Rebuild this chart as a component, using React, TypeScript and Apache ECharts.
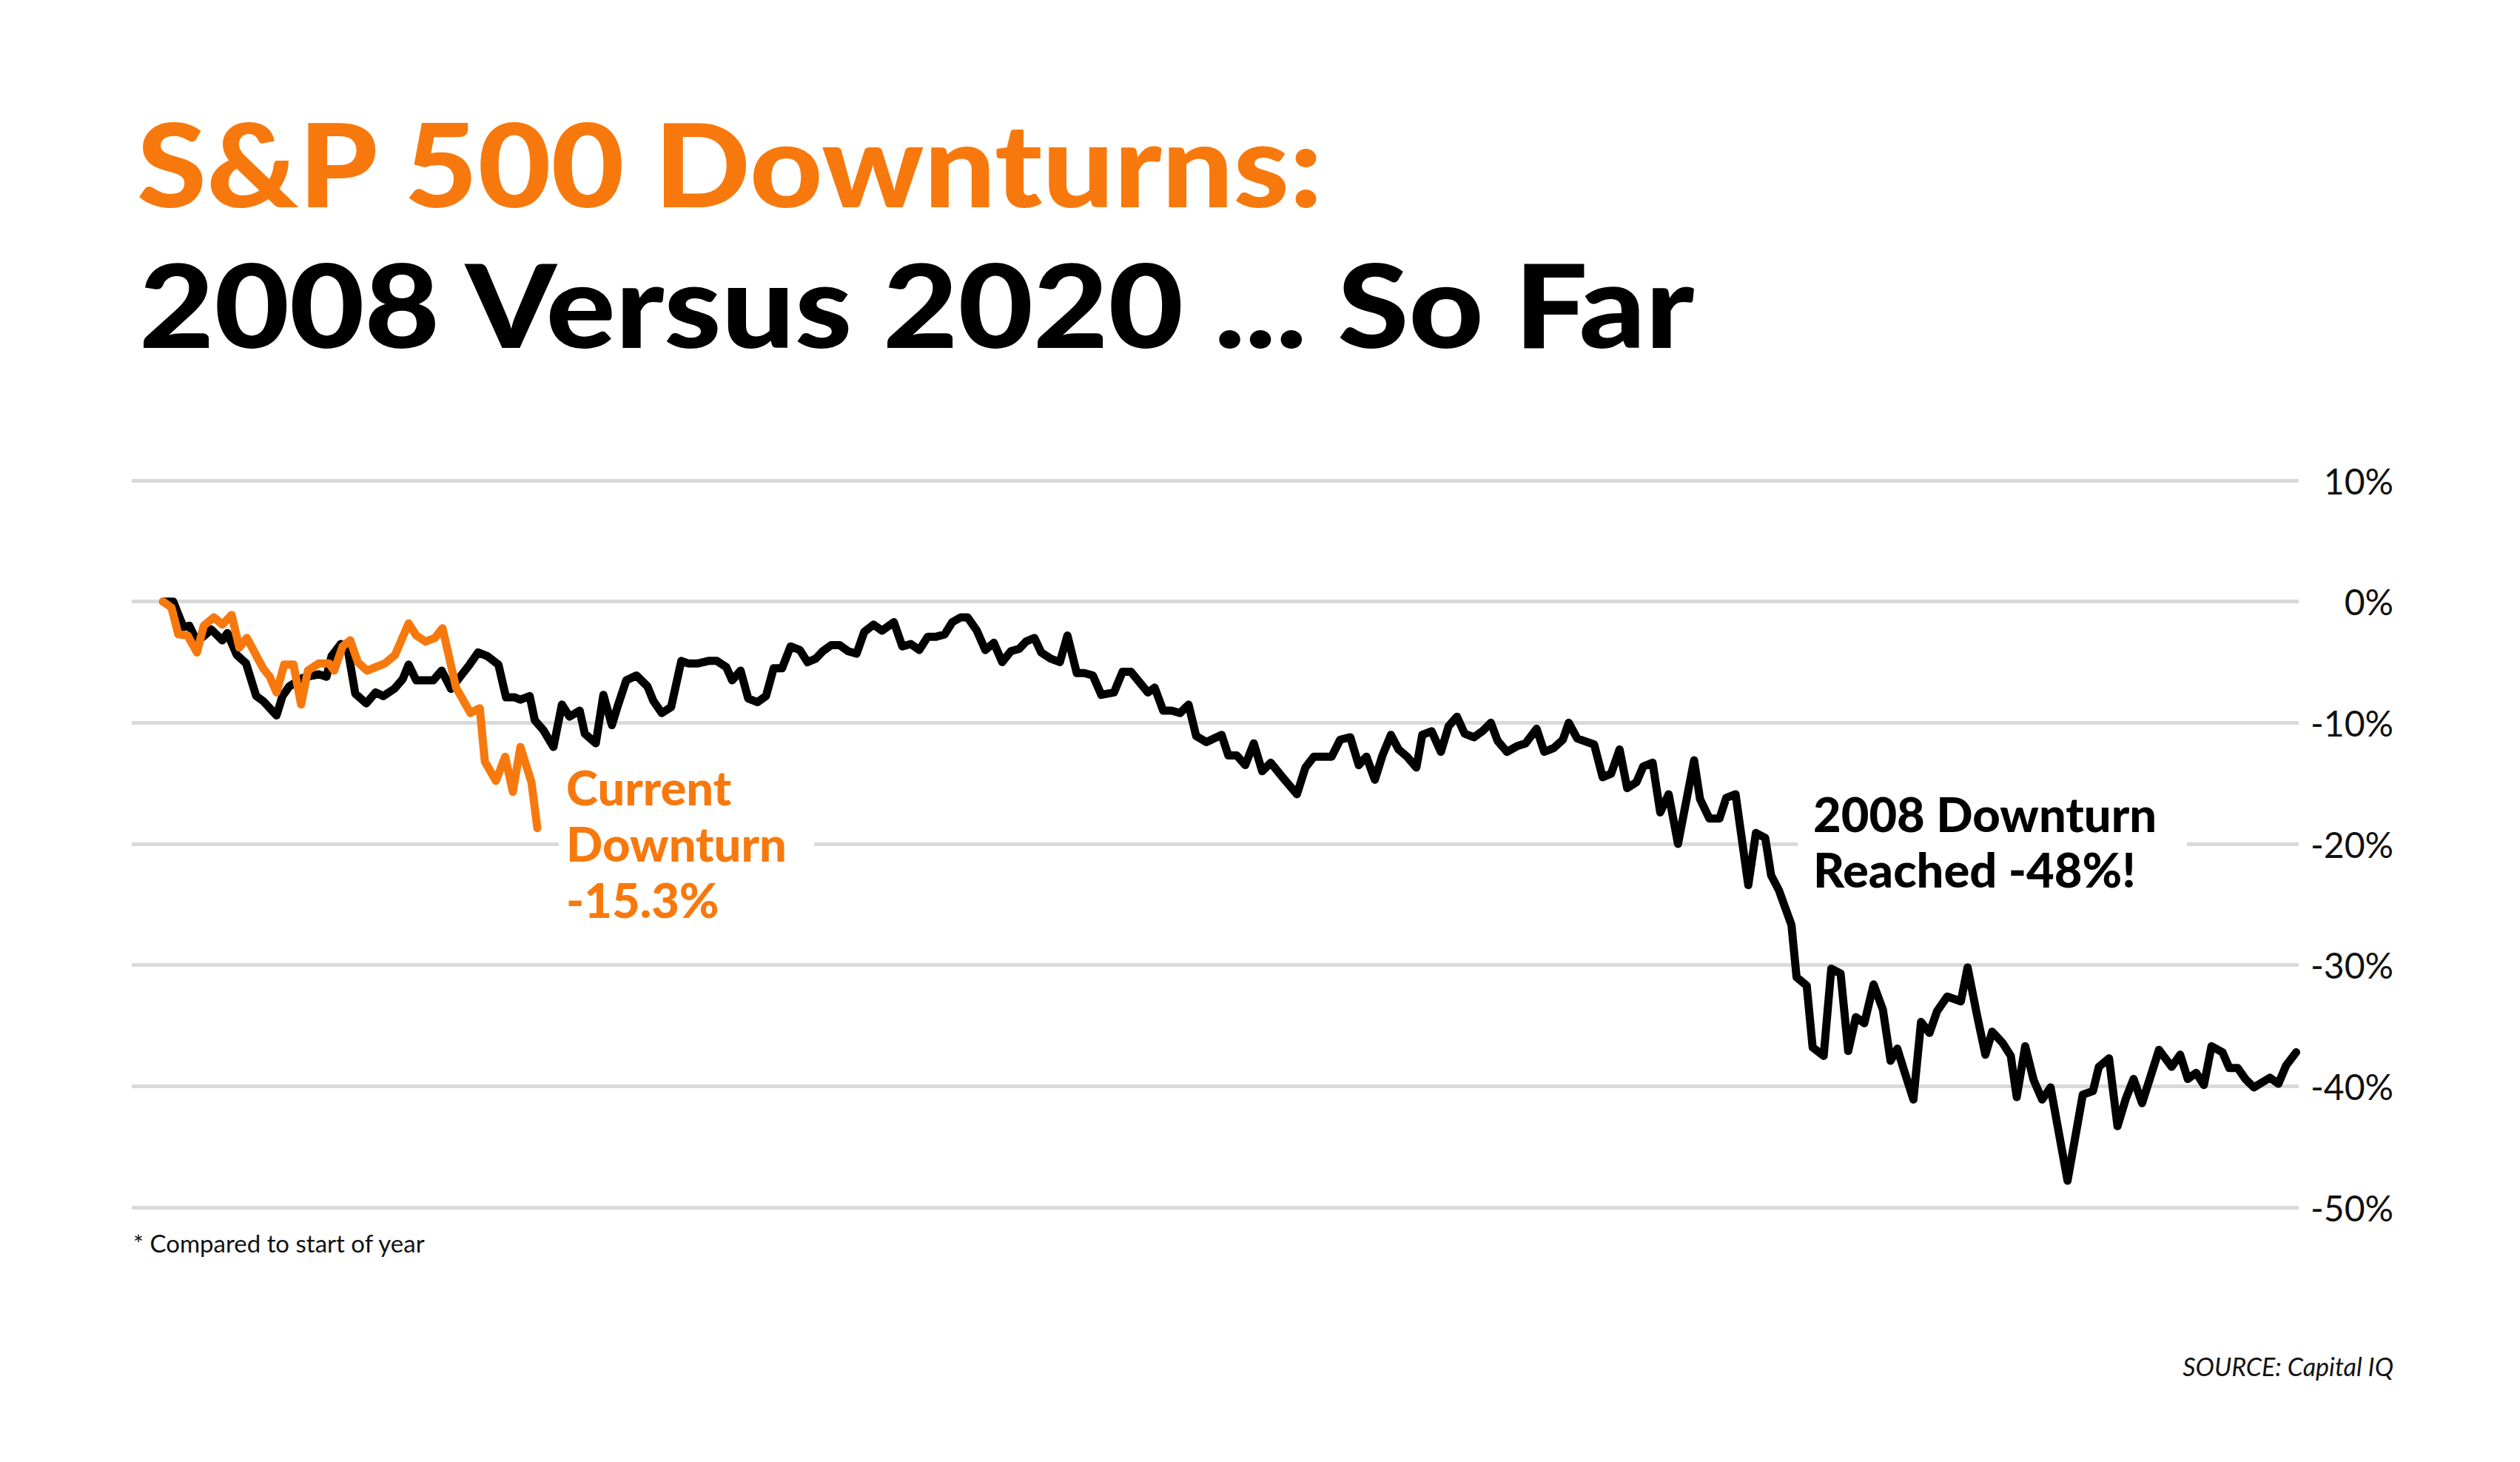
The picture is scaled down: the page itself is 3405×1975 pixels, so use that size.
import React, { useEffect, useRef } from "react";
import * as echarts from "echarts";

// Trading-day position (from first trading day of the year) and % change vs start of year
const days2008 = [
  0, 1.2, 2.4, 3.1, 4.0, 4.9, 5.7, 7.0, 7.6, 8.7, 9.8, 11.0, 11.8, 13.4, 14.1, 14.9, 16.5, 17.7, 18.4, 19.3,
  19.9, 21.0, 21.8, 22.7, 24.0, 25.1, 26.0, 27.3, 28.3, 29.0, 29.9, 31.9, 32.9, 34.0, 35.2, 36.2, 37.2, 38.3, 39.6, 40.5,
  41.5, 42.2, 43.3, 43.9, 44.9, 46.1, 47.1, 48.0, 49.2, 49.8, 51.1, 52.0, 53.0, 53.7, 54.7, 55.9, 57.2, 57.9, 58.9, 60.0,
  61.2, 62.0, 63.2, 64.4, 65.4, 66.5, 67.2, 68.2, 69.1, 70.2, 71.2, 72.1, 73.1, 74.1, 75.2, 76.1, 77.1, 77.9, 78.9, 79.9,
  80.9, 81.9, 82.8, 83.9, 84.9, 86.3, 87.3, 88.3, 89.3, 90.3, 91.3, 92.3, 93.2, 94.2, 95.0, 96.1, 97.1, 98.1, 99.1, 100.1,
  101.1, 101.9, 102.9, 103.7, 104.8, 105.9, 106.8, 107.9, 108.8, 109.8, 110.8, 112.3, 113.3, 114.3, 116.3, 117.1, 118.1, 119.1, 120.1, 121.1,
  122.0, 123.2, 125.0, 125.8, 126.8, 127.8, 128.8, 129.8, 130.8, 132.2, 133.9, 134.9, 135.9, 138.0, 139.0, 140.2, 141.2, 142.1, 143.1, 144.0,
  145.0, 145.9, 146.9, 148.0, 148.7, 149.8, 150.9, 151.8, 152.8, 153.7, 154.8, 155.8, 156.8, 157.6, 158.7, 160.0, 160.9, 162.2, 163.1, 164.2,
  165.3, 166.0, 167.0, 169.0, 170.0, 171.0, 172.0, 172.9, 174.0, 174.8, 175.9, 176.8, 177.8, 178.9, 180.8, 181.5, 182.6, 183.8, 184.6, 185.7,
  187.2, 188.1, 189.2, 189.9, 190.8, 192.3, 192.9, 194.1, 194.8, 196.1, 197.0, 198.1, 199.0, 199.9, 200.9, 202.0, 203.1, 204.0, 204.8, 205.6,
  206.7, 207.6, 208.6, 209.5, 210.7, 212.3, 213.1, 214.2, 215.2, 216.0, 217.2, 218.2, 218.9, 219.9, 220.9, 221.9, 222.9, 224.9, 226.7, 227.9,
  228.6, 229.8, 230.8, 231.8, 232.7, 233.7, 235.7, 237.2, 238.2, 239.1, 240.1, 241.0, 241.9, 243.2, 244.0, 245.0, 245.9, 246.9, 248.8, 249.8,
  250.7, 251.9,
];
const pct2008 = [
  0.0, 0.0, -2.1, -2.0, -3.3, -2.8, -2.3, -3.2, -2.6, -4.4, -5.1, -7.8, -8.2, -9.4, -7.8, -7.0, -6.3, -6.1, -6.0, -6.2,
  -4.5, -3.5, -3.9, -7.6, -8.4, -7.5, -7.8, -7.2, -6.4, -5.2, -6.5, -6.5, -5.7, -7.2, -6.1, -5.2, -4.2, -4.5, -5.2, -7.9,
  -7.9, -8.1, -7.8, -9.8, -10.6, -12.0, -8.5, -9.5, -9.0, -10.9, -11.7, -7.7, -10.2, -8.6, -6.5, -6.1, -7.0, -8.2, -9.2, -8.7,
  -4.9, -5.1, -5.1, -4.9, -4.9, -5.4, -6.5, -5.7, -8.0, -8.3, -7.8, -5.5, -5.5, -3.7, -4.0, -5.0, -4.7, -4.1, -3.6, -3.6,
  -4.1, -4.3, -2.5, -1.9, -2.4, -1.7, -3.7, -3.5, -4.0, -2.9, -2.9, -2.7, -1.7, -1.3, -1.3, -2.4, -4.0, -3.4, -5.0, -4.1,
  -3.9, -3.3, -3.0, -4.2, -4.7, -5.0, -2.8, -5.9, -5.9, -6.1, -7.7, -7.5, -5.8, -5.8, -7.5, -7.1, -9.0, -9.0, -9.2, -8.5,
  -11.1, -11.6, -11.0, -12.7, -12.7, -13.5, -11.7, -14.0, -13.3, -14.5, -15.9, -13.7, -12.8, -12.8, -11.4, -11.2, -13.5, -12.8, -14.7, -12.7,
  -11.0, -12.2, -12.8, -13.7, -11.0, -10.7, -12.4, -10.3, -9.5, -10.9, -11.2, -10.7, -10.0, -11.5, -12.4, -11.9, -11.7, -10.5, -12.4, -12.1,
  -11.4, -10.0, -11.3, -11.8, -14.5, -14.2, -12.2, -15.4, -14.9, -13.6, -13.3, -17.4, -15.9, -20.0, -13.1, -16.3, -17.9, -17.9, -16.2, -15.9,
  -23.4, -19.1, -19.5, -22.6, -23.8, -26.7, -31.0, -31.7, -36.8, -37.5, -30.3, -30.7, -37.1, -34.3, -34.8, -31.6, -33.7, -37.9, -36.9, -38.7,
  -41.1, -34.7, -35.6, -33.8, -32.6, -33.0, -30.2, -34.1, -37.4, -35.5, -36.4, -37.5, -40.9, -36.7, -39.5, -41.1, -40.1, -47.8, -40.7, -40.4,
  -38.4, -37.7, -43.3, -41.0, -39.4, -41.4, -37.0, -38.4, -37.4, -39.4, -38.9, -39.9, -36.7, -37.2, -38.5, -38.5, -39.4, -40.1, -39.3, -39.8,
  -38.3, -37.2,
];

const days2020 = [
  0, 1.0, 1.8, 2.9, 4.0, 4.8, 6.0, 7.0, 8.1, 9.0, 9.9, 11.8, 12.6, 13.4, 14.3, 15.4, 16.3, 17.1, 18.4, 19.6,
  20.2, 21.2, 22.1, 23.0, 24.1, 26.2, 27.4, 29.0, 29.9, 31.0, 32.1, 33.0, 34.6, 36.3, 37.4, 38.0, 39.3, 40.4, 41.3, 42.2,
  43.5, 44.2,
];
const pct2020 = [
  0.0, -0.5, -2.7, -2.8, -4.2, -2.0, -1.3, -1.9, -1.1, -3.8, -3.0, -5.5, -6.2, -7.5, -5.2, -5.2, -8.5, -5.7, -5.1, -5.1,
  -5.7, -3.7, -3.2, -5.0, -5.7, -5.1, -4.4, -1.8, -2.8, -3.3, -3.0, -2.2, -7.1, -9.2, -8.8, -13.2, -14.8, -12.8, -15.7, -12.0,
  -14.9, -18.7,
];

const yTicks = [-50, -40, -30, -20, -10, 0, 10];

const titleLine1 = "S&P 500 Downturns:";
const titleLine2 = "2008 Versus 2020 ... So Far";
const noteCurrent = ["Current", "Downturn", "-15.3%"];
const note2008 = ["2008 Downturn", "Reached -48%!"];
const footnote = "* Compared to start of year";
const source = "SOURCE: Capital IQ";

const ORANGE = "#F7790D";
const FONT = "Lato, 'Noto Sans', sans-serif";

export default function App() {
  const ref = useRef<HTMLDivElement>(null);

  useEffect(() => {
    document.body.style.margin = "0";
    const chart = echarts.init(ref.current!, null, { renderer: "svg" });

    const data2008 = days2008.map((d, i) => [d, pct2008[i]]);
    const data2020 = days2020.map((d, i) => [d, pct2020[i]]);

    chart.setOption({
      animation: false,
      backgroundColor: "#ffffff",
      grid: { left: 178, right: 299, top: 649, bottom: 344, containLabel: false },
      xAxis: {
        type: "value",
        min: -3.7,
        max: 252.2,
        show: false,
        splitLine: { show: false },
      },
      yAxis: {
        type: "value",
        position: "right",
        min: yTicks[0],
        max: yTicks[yTicks.length - 1],
        interval: 10,
        axisLine: { show: false },
        axisTick: { show: false },
        splitLine: { show: true, lineStyle: { color: "#D9D9D9", width: 5 } },
        axisLabel: {
          formatter: "{value}%",
          align: "right",
          margin: 128,
          fontSize: 48,
          fontFamily: FONT,
          color: "#111111",
        },
      },
      series: [
        {
          name: "2008",
          type: "line",
          data: data2008,
          symbol: "none",
          showSymbol: false,
          z: 3,
          lineStyle: { color: "#000000", width: 11, cap: "round", join: "round" },
        },
        {
          name: "2020",
          type: "line",
          data: data2020,
          symbol: "none",
          showSymbol: false,
          z: 4,
          lineStyle: { color: ORANGE, width: 11, cap: "round", join: "round" },
        },
      ],
      graphic: [
        {
          type: "text",
          x: 185,
          y: 219,
          scaleX: 1.088,
          style: {
            text: titleLine1,
            fill: ORANGE,
            fontSize: 157,
            fontWeight: 900,
            fontFamily: FONT,
            align: "left",
            verticalAlign: "middle",
          },
        },
        {
          type: "text",
          x: 188,
          y: 409,
          scaleX: 1.115,
          style: {
            text: titleLine2,
            fill: "#000000",
            fontSize: 157,
            fontWeight: 900,
            fontFamily: FONT,
            align: "left",
            verticalAlign: "middle",
          },
        },
        { type: "rect", z: 1, shape: { x: 755, y: 1125, width: 345, height: 30 }, style: { fill: "#ffffff" } },
        { type: "rect", z: 1, shape: { x: 2429, y: 1125, width: 526, height: 30 }, style: { fill: "#ffffff" } },
        {
          type: "text",
          z: 2,
          x: 765,
          y: 1025,
          style: {
            text: noteCurrent.join("\n"),
            fill: ORANGE,
            fontSize: 65,
            fontWeight: 900,
            fontFamily: FONT,
            lineHeight: 76,
            align: "left",
            verticalAlign: "top",
          },
        },
        {
          type: "text",
          z: 2,
          x: 2450,
          y: 1061,
          style: {
            text: note2008.join("\n"),
            fill: "#000000",
            fontSize: 65,
            fontWeight: 900,
            fontFamily: FONT,
            lineHeight: 75,
            align: "left",
            verticalAlign: "top",
          },
        },
        {
          type: "text",
          x: 180,
          y: 1679,
          style: {
            text: footnote,
            fill: "#111111",
            fontSize: 33,
            fontFamily: FONT,
            align: "left",
            verticalAlign: "middle",
          },
        },
        {
          type: "text",
          x: 3234,
          y: 1845,
          style: {
            text: source,
            fill: "#111111",
            fontSize: 34,
            fontStyle: "italic",
            fontFamily: FONT,
            align: "right",
            verticalAlign: "middle",
          },
        },
      ],
    });

    return () => chart.dispose();
  }, []);

  return <div ref={ref} style={{ width: 3405, height: 1975 }} />;
}
